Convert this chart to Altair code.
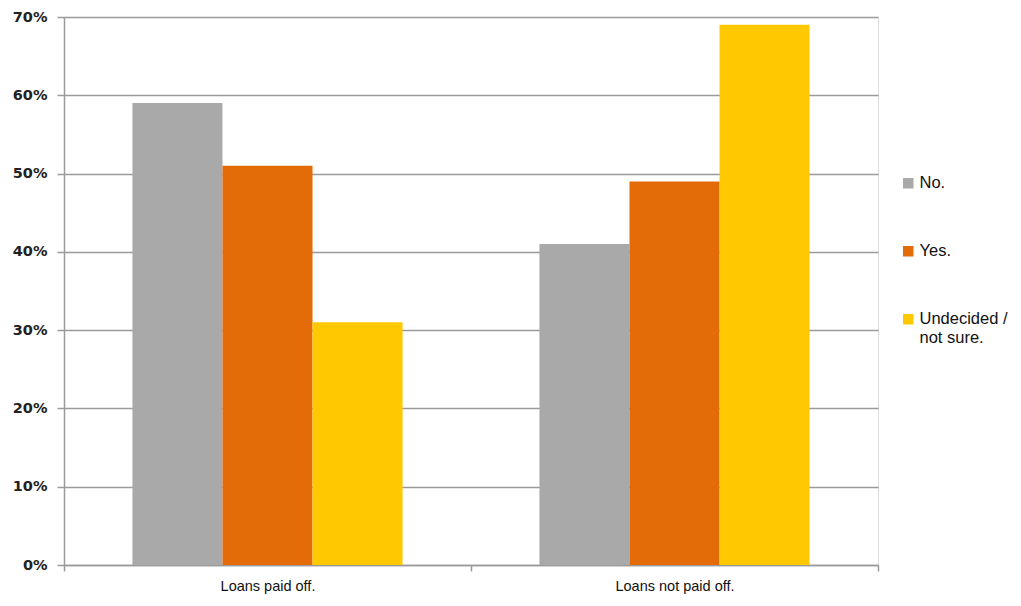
import altair as alt
import pandas as pd

groups = ["Loans paid off.", "Loans not paid off."]
answers = ["No.", "Yes.", "Undecided / not sure."]
no_vals = [0.59, 0.41]
yes_vals = [0.51, 0.49]
und_vals = [0.31, 0.69]
colors = ["#A9A9A9", "#E36C09", "#FFC800"]
y_ticks = [0, 0.1, 0.2, 0.3, 0.4, 0.5, 0.6, 0.7]

rows = []
for i, g in enumerate(groups):
    for a, vals in zip(answers, [no_vals, yes_vals, und_vals]):
        rows.append({"group": g, "answer": a, "value": vals[i]})
df = pd.DataFrame(rows)

chart = alt.Chart(df).mark_bar(strokeWidth=0).encode(
    x=alt.X("group:N", sort=groups, title=None,
            scale=alt.Scale(paddingInner=0, paddingOuter=0),
            axis=alt.Axis(labelAngle=0, tickBand="extent", labelFont="Liberation Sans",
                          labelFontSize=14.5, labelColor="#111", labelPadding=8,
                          domainColor="#9A9A9A", domainWidth=1.5, tickColor="#9A9A9A",
                          tickWidth=1.5, tickSize=6)),
    xOffset=alt.XOffset("answer:N", sort=answers,
                        scale=alt.Scale(paddingInner=0, paddingOuter=0.76)),
    y=alt.Y("value:Q", title=None,
            scale=alt.Scale(domain=[0, 0.7], nice=False),
            axis=alt.Axis(format=".0%", values=y_ticks, labelFont="DejaVu Sans",
                          labelFontWeight="bold", labelFontSize=14.5, labelColor="#222",
                          labelPadding=10, grid=True, gridColor="#9A9A9A", gridWidth=1.5,
                          domainColor="#9A9A9A", domainWidth=1.5, tickColor="#9A9A9A",
                          tickWidth=1.5, tickSize=7)),
    color=alt.Color("answer:N", sort=answers, title=None,
                    scale=alt.Scale(domain=answers, range=colors),
                    legend=alt.Legend(orient="none", legendX=836, legendY=158,
                                      symbolType="square", symbolSize=110,
                                      symbolStrokeWidth=0, labelFont="Liberation Sans",
                                      labelFontSize=16.5, labelColor="#111",
                                      rowPadding=51, labelOffset=3,
                                      labelExpr="datum.label == 'Undecided / not sure.' ? ['Undecided /', 'not sure.'] : datum.label")),
).properties(
    width=814, height=548,
    autosize=alt.AutoSizeParams(type="none"),
    padding={"left": 56, "top": 9, "right": 135, "bottom": 32},
).configure_view(stroke=None).configure(background="white")

chart.save("out.html", embed_options={"renderer": "svg", "actions": False})
